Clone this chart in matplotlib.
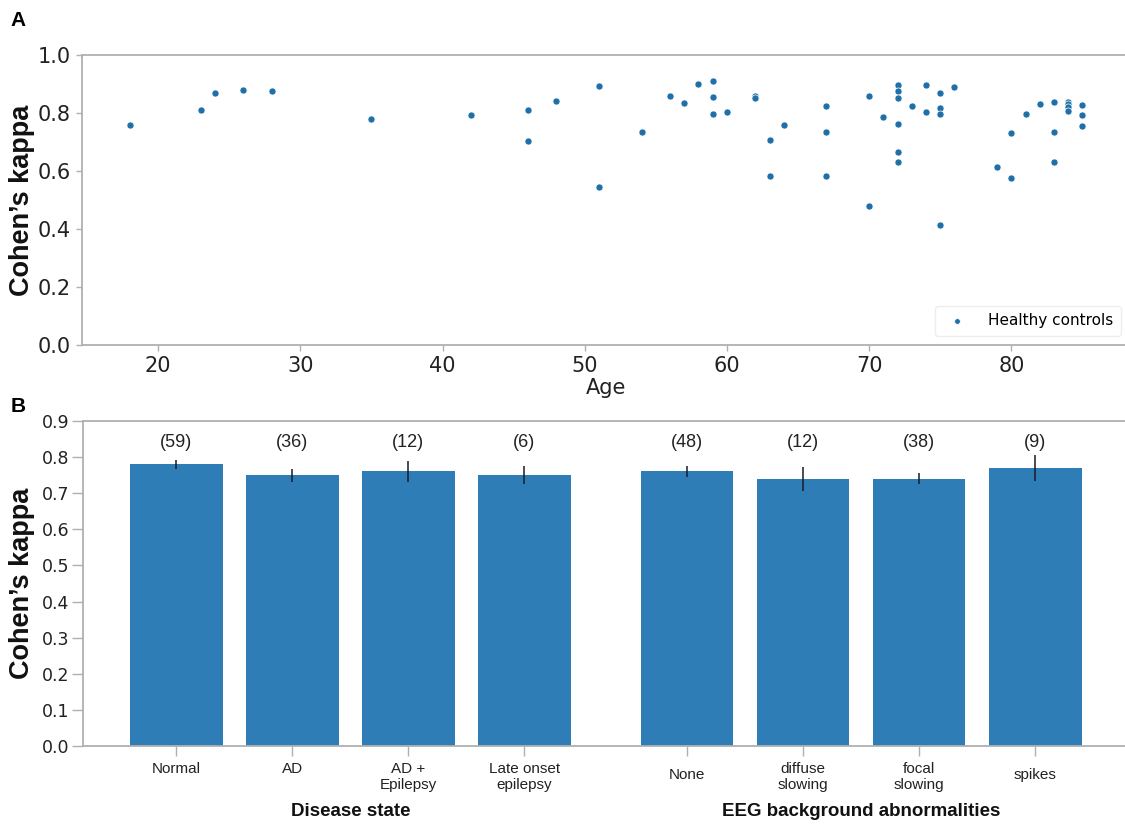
import matplotlib
matplotlib.use("Agg")
import matplotlib.pyplot as plt
import matplotlib.transforms as mtransforms

# panel A: healthy controls, age vs kappa
ages = [18, 23, 24, 26, 28, 35, 42, 46, 46, 48, 51, 51, 54, 56, 57, 58, 59, 59, 59, 60,
        62, 62, 63, 63, 64, 67, 67, 67, 70, 70, 71, 72, 72, 72, 72, 72, 72, 73, 74, 74,
        75, 75, 75, 75, 76, 79, 80, 80, 81, 82, 83, 83, 83, 84, 84, 84, 84, 85, 85, 85]
kappas = [0.758, 0.809, 0.869, 0.877, 0.874, 0.780, 0.791, 0.811, 0.703, 0.840,
          0.891, 0.545, 0.734, 0.859, 0.832, 0.900, 0.911, 0.855, 0.795, 0.803,
          0.858, 0.850, 0.706, 0.582, 0.757, 0.824, 0.734, 0.581, 0.859, 0.478,
          0.785, 0.897, 0.874, 0.852, 0.760, 0.664, 0.630, 0.823, 0.894, 0.803,
          0.869, 0.816, 0.795, 0.415, 0.890, 0.614, 0.731, 0.575, 0.795, 0.830,
          0.838, 0.734, 0.630, 0.838, 0.829, 0.819, 0.807, 0.826, 0.793, 0.755]

# panel B
disease_labels = ['Normal', 'AD', 'AD +\nEpilepsy', 'Late onset\nepilepsy']
disease_kappa = [0.78, 0.75, 0.76, 0.75]
disease_err = [0.013, 0.018, 0.030, 0.024]
disease_n = [59, 36, 12, 6]

eeg_labels = ['None', 'diffuse\nslowing', 'focal\nslowing', 'spikes']
eeg_kappa = [0.76, 0.74, 0.74, 0.77]
eeg_err = [0.016, 0.033, 0.016, 0.037]
eeg_n = [48, 12, 38, 9]

spine_col = '#b0b0b0'
txt_col = '#222222'
bar_col = '#2e7db6'
arial = 'Liberation Sans'

fig = plt.figure(figsize=(11.25, 8.26), dpi=100)

# ---- A ----
axA = fig.add_axes([0.0729, 0.5823, 0.9316, 0.3515])
axA.scatter(ages, kappas, s=26, color='#1f6fa8', edgecolor='white', linewidth=0.5,
            label='Healthy controls', zorder=3)
axA.set_ylim(0, 1.0)
axA.set_xlim(14.65, 88.35)
axA.set_yticks([0, 0.2, 0.4, 0.6, 0.8, 1.0])
axA.set_yticklabels(['0.0', '0.2', '0.4', '0.6', '0.8', '1.0'])
axA.set_xticks([20, 30, 40, 50, 60, 70, 80])
axA.tick_params(labelsize=15, colors=spine_col, labelcolor=txt_col, length=4.5, width=1)
for s in ['top', 'bottom', 'left']:
    axA.spines[s].set_color(spine_col)
    axA.spines[s].set_linewidth(1.3)
axA.spines['right'].set_visible(False)
axA.set_xlabel('Age', fontsize=15, color=txt_col, labelpad=1)
axA.legend(loc='lower right', fontsize=11, frameon=True, framealpha=1,
           edgecolor='#eeeeee', markerscale=0.8, borderaxespad=0.6,
           handletextpad=1.0, borderpad=0.5)
fig.text(22 / 1125, 0.758, 'Cohen\u2019s kappa', rotation=90, ha='center', va='center',
         fontsize=19.5, fontweight='bold', family=arial, color='#111111')
fig.text(18 / 1125, 1 - 20 / 826, 'A', ha='center', va='center', fontsize=15,
         fontweight='bold', family=arial)

# ---- B ----
axB = fig.add_axes([0.0742, 0.0969, 0.9284, 0.3935])
gap = 4.4
pos_d = list(range(len(disease_labels)))
pos_e = [gap + i for i in range(len(eeg_labels))]
axB.bar(pos_d, disease_kappa, width=0.8, color=bar_col, zorder=2)
axB.bar(pos_e, eeg_kappa, width=0.8, color=bar_col, zorder=2)
axB.errorbar(pos_d, disease_kappa, yerr=disease_err, fmt='none', ecolor='#1a1a2a',
             elinewidth=1.1, capsize=0, zorder=3)
axB.errorbar(pos_e, eeg_kappa, yerr=eeg_err, fmt='none', ecolor='#1a1a2a',
             elinewidth=1.1, capsize=0, zorder=3)
for x, n in zip(pos_d + pos_e, disease_n + eeg_n):
    axB.text(x, 0.84, '(%d)' % n, ha='center', va='center', fontsize=13,
             family=arial, color=txt_col)
axB.set_xlim(-0.8, gap + 3.8)
axB.set_ylim(0, 0.9)
axB.set_yticks([i / 10 for i in range(10)])
axB.set_yticklabels(['%.1f' % (i / 10) for i in range(10)])
axB.set_xticks(pos_d + pos_e)
axB.set_xticklabels(disease_labels + eeg_labels, family=arial, fontsize=11)
axB.tick_params(axis='x', colors=spine_col, labelcolor=txt_col, length=7.5, width=1, pad=4)
axB.tick_params(axis='y', colors=spine_col, labelcolor=txt_col, length=8, width=1,
                labelsize=12.5, pad=2)
for lab in axB.get_xticklabels():
    if '\n' not in lab.get_text() and lab.get_text() in eeg_labels:
        lab.set_va('center')
        lab.set_transform(lab.get_transform() + mtransforms.ScaledTranslation(0, -0.13, fig.dpi_scale_trans))
for s in ['top', 'bottom', 'left']:
    axB.spines[s].set_color(spine_col)
    axB.spines[s].set_linewidth(1.3)
axB.spines['right'].set_visible(False)

blend = mtransforms.blended_transform_factory(axB.transData, axB.transAxes)
axB.text(sum(pos_d) / 4, -0.203, 'Disease state', transform=blend, ha='center',
         va='center', fontsize=13.5, fontweight='bold', family=arial, color='#111111')
axB.text(sum(pos_e) / 4, -0.203, 'EEG background abnormalities', transform=blend,
         ha='center', va='center', fontsize=13.5, fontweight='bold', family=arial,
         color='#111111')
fig.text(22 / 1125, 0.2936, 'Cohen\u2019s kappa', rotation=90, ha='center', va='center',
         fontsize=19.5, fontweight='bold', family=arial, color='#111111')
fig.text(18 / 1125, 1 - 407 / 826, 'B', ha='center', va='center', fontsize=15,
         fontweight='bold', family=arial)

fig.savefig('out.png', dpi=100)
